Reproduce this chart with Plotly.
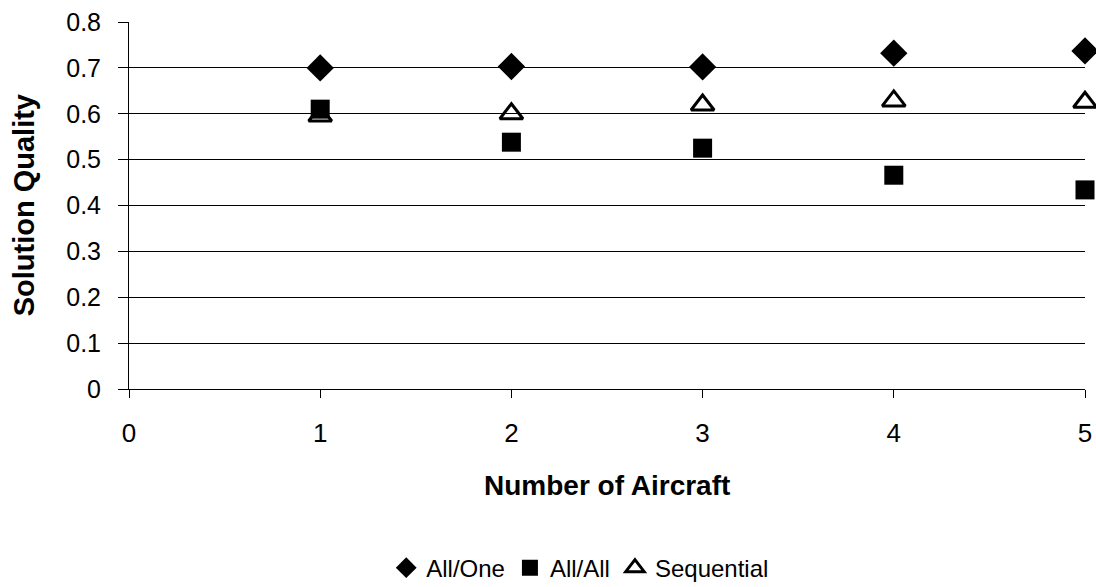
import plotly.graph_objects as go

aircraft = [1, 2, 3, 4, 5]
all_one = [0.700, 0.703, 0.702, 0.732, 0.737]
all_all = [0.610, 0.538, 0.525, 0.466, 0.434]
sequential = [0.595, 0.600, 0.619, 0.628, 0.625]
y_ticks = [0, 0.1, 0.2, 0.3, 0.4, 0.5, 0.6, 0.7, 0.8]
y_tick_labels = ["0", "0.1", "0.2", "0.3", "0.4", "0.5", "0.6", "0.7", "0.8"]
x_ticks = [0, 1, 2, 3, 4, 5]

fig = go.Figure()
fig.add_trace(go.Scatter(x=aircraft, y=all_one, mode="markers", name="All/One",
                         marker=dict(symbol="diamond", size=21, color="black"), cliponaxis=False))
fig.add_trace(go.Scatter(x=aircraft, y=all_all, mode="markers", name="All/All",
                         marker=dict(symbol="square", size=19, color="black"), cliponaxis=False))
fig.add_trace(go.Scatter(x=aircraft, y=sequential, mode="markers", name="Sequential",
                         marker=dict(symbol="triangle-up-open", size=20, color="black",
                                     line=dict(width=3, color="black")), cliponaxis=False))

fam = "Liberation Sans, Arial, sans-serif"
fig.update_layout(
    width=1096, height=587,
    margin=dict(l=129, r=11, t=22, b=198, autoexpand=False),
    paper_bgcolor="white", plot_bgcolor="white",
    font=dict(family=fam, size=24, color="black"),
    showlegend=True,
    legend=dict(orientation="h", x=0.472, xanchor="center", y=-0.488, yanchor="middle",
                font=dict(size=24), itemwidth=30, tracegroupgap=0),
    xaxis=dict(range=[0, 5], tickvals=x_ticks, showgrid=False, zeroline=False,
               showline=True, linecolor="black", linewidth=1, automargin=False,
               ticks="outside", ticklen=8, tickcolor="black", ticklabelstandoff=13,
               ticklabeloverflow="allow", tickfont=dict(size=26)),
    yaxis=dict(range=[0, 0.8], tickvals=y_ticks, ticktext=y_tick_labels,
               showgrid=True, gridcolor="black", gridwidth=1, zeroline=False,
               showline=True, linecolor="black", linewidth=1, automargin=False,
               ticks="outside", ticklen=10, tickcolor="black", ticklabelstandoff=12,
               ticklabeloverflow="allow", tickfont=dict(size=25)),
    annotations=[
        dict(text="<b>Number of Aircraft</b>", xref="paper", yref="paper", x=0.5, y=-0.2616,
             xanchor="center", yanchor="middle", showarrow=False, font=dict(size=28)),
        dict(text="<b>Solution Quality</b>", xref="paper", yref="paper", x=-0.11, y=0.5,
             xanchor="center", yanchor="middle", textangle=-90, showarrow=False,
             font=dict(size=29)),
    ],
)

fig.write_html(
    "out.html",
    config={"displayModeBar": False},
    post_script="document.body.style.margin='0';document.body.style.overflow='hidden';",
)
